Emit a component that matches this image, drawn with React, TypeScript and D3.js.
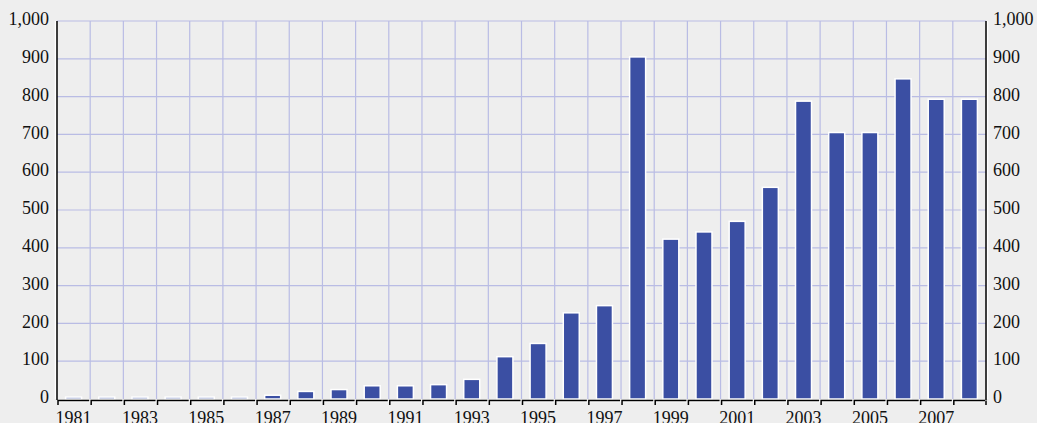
import React from 'react';
import * as d3 from 'd3';

const width = 1037;
const height = 423;
const margin = {top: 21, right: 51, bottom: 24, left: 57};
const bg = '#eeeeee';
const grid = '#b9bce4';
const barColor = '#3b4fa3';

const years = d3.range(1981, 2009).map(String);
const values = [5, 5, 5, 5, 5, 5, 10, 20, 25, 35, 35, 38, 52, 112, 147, 228, 247, 905,
  423, 442, 470, 560, 788, 705, 705, 847, 793, 793];
const yTicks = [0, 100, 200, 300, 400, 500, 600, 700, 800, 900, 1000];
const xLabels = years.filter((_, i) => i % 2 === 0);

const App = () => {
  const x = d3.scaleBand().domain(years).range([margin.left, width - margin.right]);
  const y = d3.scaleLinear().domain([0, 1000]).range([height - margin.bottom, margin.top]);
  const fmt = d3.format(',');
  const bw = 16;
  const x0 = margin.left;
  const x1 = width - margin.right;
  const y0 = y(0);

  return (
    <svg width={width} height={height} style={{position: 'fixed', left: 0, top: 0, display: 'block'}}
      fontFamily="'Liberation Serif', 'Times New Roman', serif" fontSize={18}>
      <rect width={width} height={height} fill={bg}/>
      {/* grid */}
      {yTicks.filter(t => t > 0).map(t => (
        <line key={'h' + t} x1={x0} x2={x1} y1={y(t)} y2={y(t)} stroke={grid} strokeWidth={1.2}/>
      ))}
      {years.slice(1).map(yr => (
        <line key={'v' + yr} x1={x(yr)} x2={x(yr)} y1={y(1000)} y2={y0} stroke={grid} strokeWidth={1.2}/>
      ))}
      {/* bars */}
      {years.map((yr, i) => (
        <rect key={yr} x={(x(yr) as number) + x.bandwidth() / 2 - bw / 2} y={y(values[i])}
          width={bw} height={y0 - y(values[i])} fill={barColor} stroke="#ffffff" strokeWidth={1.5}/>
      ))}
      {/* left & right axes */}
      <line x1={x0 - 1.5} x2={x0 - 1.5} y1={y(1000)} y2={y0} stroke="#ffffff" strokeWidth={1.5}/>
      <line x1={x0} x2={x0} y1={y(1000)} y2={y0 + 1} stroke="#000" strokeWidth={1.5}/>
      <line x1={x1 + 1.5} x2={x1 + 1.5} y1={y(1000)} y2={y0} stroke="#ffffff" strokeWidth={1.5}/>
      <line x1={x1} x2={x1} y1={y(1000)} y2={y0 + 1} stroke="#000" strokeWidth={1.5}/>
      {yTicks.map(t => (
        <g key={'yl' + t}>
          <text x={x0 - 8} y={y(t)} textAnchor="end" dominantBaseline="middle" fill="#111">{fmt(t)}</text>
          <text x={x1 + 7} y={y(t)} textAnchor="start" dominantBaseline="middle" fill="#111">{fmt(t)}</text>
        </g>
      ))}
      {/* bottom axis, one segment per band */}
      <line x1={x0} x2={x1} y1={y0 + 2.5} y2={y0 + 2.5} stroke="#ffffff" strokeWidth={1.5}/>
      {years.map(yr => {
        const a = x(yr) as number;
        const b = a + x.bandwidth();
        return (
          <path key={'ax' + yr} d={`M${a + 1},${y0 + 6}V${y0 + 1.5}H${b - 1}`} fill="none" stroke="#000" strokeWidth={1.5}/>
        );
      })}
      <path d={`M${x1},${y0 + 1.5}V${y0 + 6}`} stroke="#000" strokeWidth={1.5}/>
      {xLabels.map(yr => (
        <text key={'xl' + yr} x={(x(yr) as number) + x.bandwidth() / 2} y={height + 1} textAnchor="middle" fill="#111">{yr}</text>
      ))}
    </svg>
  );
};

export default App;
